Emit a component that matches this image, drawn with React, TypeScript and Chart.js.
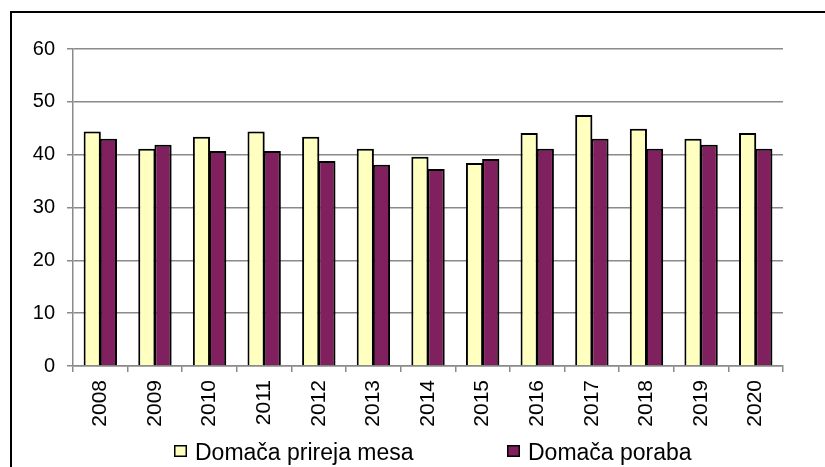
import React, { useEffect, useRef } from 'react';
import { Chart, registerables } from 'chart.js';

Chart.register(...registerables);

const years = ['2008', '2009', '2010', '2011', '2012', '2013', '2014', '2015', '2016', '2017', '2018', '2019', '2020'];
const prireja = [44.4, 41.1, 43.4, 44.4, 43.4, 41.1, 39.6, 38.4, 44.1, 47.5, 44.9, 43.0, 44.1];
const poraba = [43.0, 41.9, 40.7, 40.7, 38.8, 38.1, 37.3, 39.2, 41.1, 43.0, 41.1, 41.9, 41.1];
const seriesLabels = ['Domača prireja mesa', 'Domača poraba'];
const seriesColors = ['#FFFFC0', '#80205F'];
const yMin = 0;
const yMax = 60;
const yStep = 10;

const FONT = '"Liberation Sans", Arial, sans-serif';
const CANVAS_W = 813;
const CANVAS_H = 454;

const shadowPlugin = {
  id: 'barShadow',
  beforeDatasetsDraw(chart: any) {
    const ctx = chart.ctx;
    ctx.save();
    ctx.shadowColor = 'rgba(0,0,0,0.28)';
    ctx.shadowBlur = 3;
    ctx.shadowOffsetX = 2.5;
    ctx.shadowOffsetY = 1;
  },
  afterDatasetsDraw(chart: any) {
    chart.ctx.restore();
  },
};

const legendPlugin = {
  id: 'excelLegend',
  afterDraw(chart: any) {
    const { ctx, chartArea } = chart;
    const starts = [chartArea.left + 101, chartArea.left + 434];
    const boxW = 13;
    const boxH = 12;
    const boxTop = 432;
    ctx.save();
    ctx.font = `23px ${FONT}`;
    ctx.textBaseline = 'alphabetic';
    ctx.textAlign = 'left';
    chart.data.datasets.forEach((ds: any, i: number) => {
      const x = starts[i];
      ctx.fillStyle = ds.backgroundColor;
      ctx.fillRect(x, boxTop, boxW, boxH);
      ctx.lineWidth = 1.5;
      ctx.strokeStyle = '#000';
      ctx.strokeRect(x + 0.75, boxTop + 0.75, boxW - 1.5, boxH - 1.5);
      ctx.fillStyle = '#000';
      ctx.fillText(ds.label, x + boxW + 8, boxTop + 15);
    });
    ctx.restore();
  },
};

export default function App() {
  const canvasRef = useRef<HTMLCanvasElement | null>(null);

  useEffect(() => {
    if (!canvasRef.current) return;
    const xAxisHeight = 70;
    const chart = new Chart(canvasRef.current, {
      type: 'bar',
      data: {
        labels: years,
        datasets: [
          {
            label: seriesLabels[0],
            data: prireja,
            backgroundColor: seriesColors[0],
            borderColor: '#000',
            borderWidth: 2,
            barPercentage: 1.062,
            categoryPercentage: 0.592,
          },
          {
            label: seriesLabels[1],
            data: poraba,
            backgroundColor: seriesColors[1],
            borderColor: '#000',
            borderWidth: 2,
            barPercentage: 1.062,
            categoryPercentage: 0.592,
          },
        ],
      },
      options: {
        responsive: false,
        animation: false,
        devicePixelRatio: 1,
        layout: {
          padding: { top: 36, right: 42, left: 0, bottom: CANVAS_H - 353 - xAxisHeight },
        },
        plugins: {
          legend: { display: false },
          tooltip: { enabled: false },
          title: { display: false },
        },
        scales: {
          x: {
            offset: true,
            grid: {
              display: true,
              offset: true,
              drawOnChartArea: false,
              drawTicks: true,
              tickLength: 6,
              color: '#8a8a8a',
              lineWidth: 1.5,
            },
            border: { display: true, color: '#8a8a8a', width: 1.5 },
            ticks: {
              autoSkip: false,
              minRotation: 90,
              maxRotation: 90,
              padding: 8,
              color: '#000',
              font: { family: FONT, size: 21 },
            },
            afterFit: (s: any) => {
              s.height = xAxisHeight;
            },
          },
          y: {
            min: yMin,
            max: yMax,
            ticks: {
              stepSize: yStep,
              padding: 12,
              color: '#000',
              font: { family: FONT, size: 20 },
            },
            grid: {
              color: '#8a8a8a',
              lineWidth: 1.5,
              drawTicks: true,
              tickLength: 6,
            },
            border: { display: true, color: '#8a8a8a', width: 1.5 },
            afterFit: (s: any) => {
              s.width = 61;
            },
          },
        },
      },
      plugins: [shadowPlugin, legendPlugin],
    });
    return () => chart.destroy();
  }, []);

  return (
    <div
      style={{
        position: 'fixed',
        left: 0,
        top: 0,
        width: 825,
        height: 467,
        overflow: 'hidden',
        background: '#fff',
      }}
    >
      <div
        style={{
          position: 'absolute',
          left: 10,
          top: 11,
          borderTop: '2px solid #000',
          borderLeft: '2px solid #000',
          width: CANVAS_W,
          height: CANVAS_H + 10,
          background: '#fff',
        }}
      >
        <canvas
          ref={canvasRef}
          width={CANVAS_W}
          height={CANVAS_H}
          style={{ display: 'block', width: CANVAS_W, height: CANVAS_H }}
        />
      </div>
    </div>
  );
}
